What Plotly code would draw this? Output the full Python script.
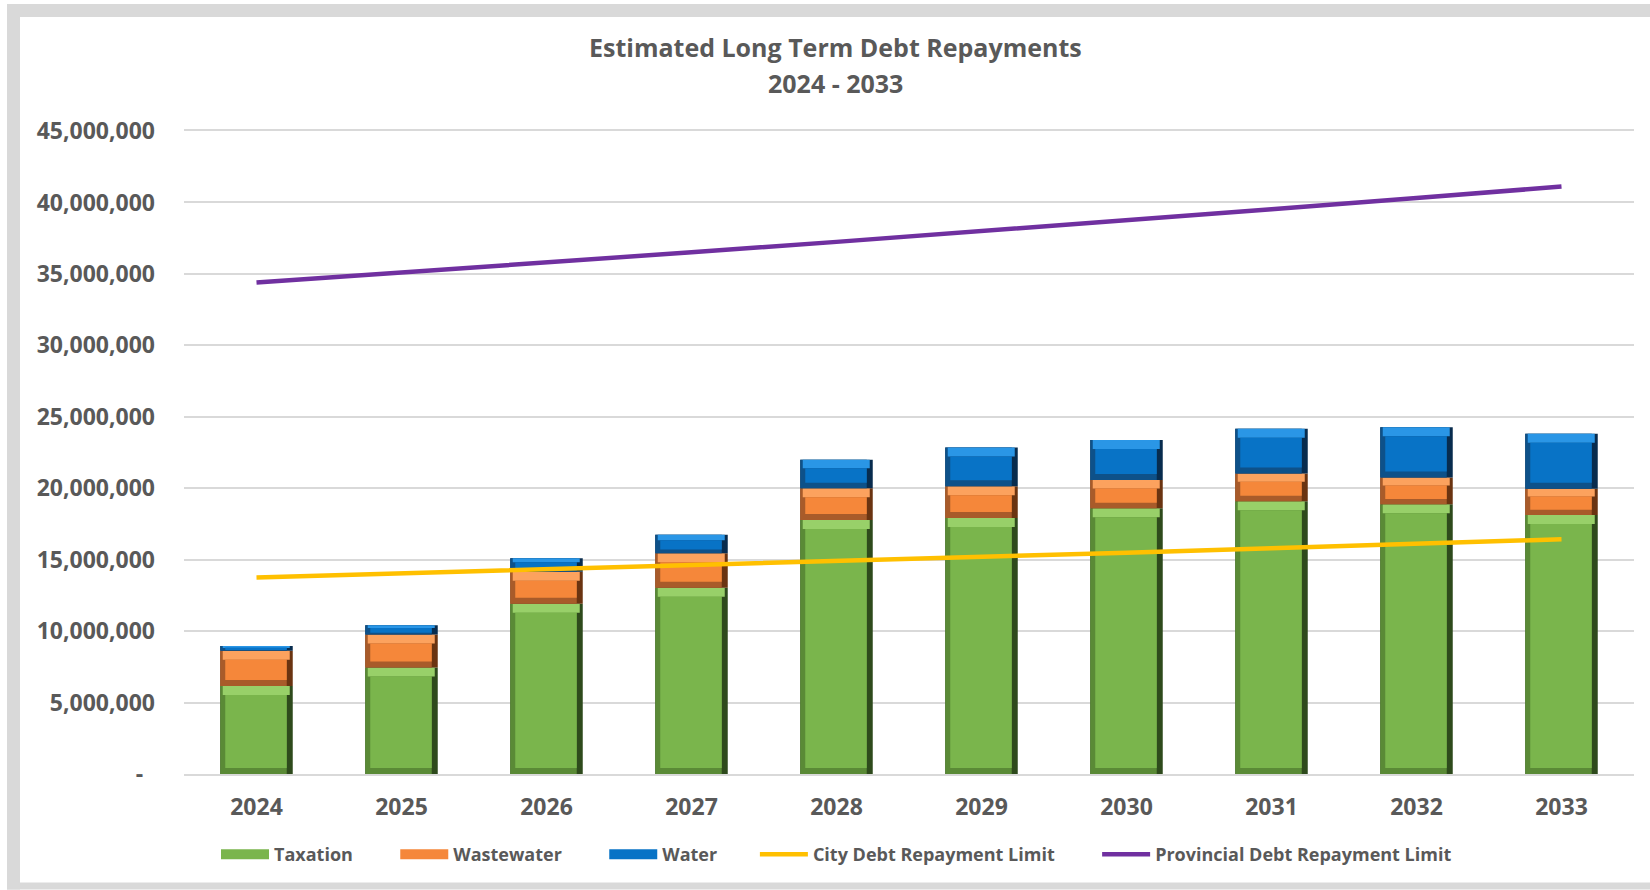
import plotly.graph_objects as go

# ---- data -------------------------------------------------------------
years = ["2024", "2025", "2026", "2027", "2028", "2029", "2030", "2031", "2032", "2033"]
taxation = [6_160_000, 7_460_000, 11_920_000, 13_040_000, 17_780_000,
            17_920_000, 18_590_000, 19_080_000, 18_870_000, 18_130_000]
wastewater = [2_460_000, 2_300_000, 2_230_000, 2_410_000, 2_210_000,
              2_210_000, 1_980_000, 1_950_000, 1_880_000, 1_840_000]
water = [330_000, 650_000, 950_000, 1_290_000, 2_000_000,
         2_720_000, 2_810_000, 3_140_000, 3_520_000, 3_850_000]
city_limit = [13_750_000, 14_030_000, 14_310_000, 14_590_000, 14_880_000,
              15_180_000, 15_490_000, 15_800_000, 16_110_000, 16_430_000]
provincial_limit = [34_400_000, 35_090_000, 35_790_000, 36_510_000, 37_240_000,
                    37_980_000, 38_740_000, 39_520_000, 40_310_000, 41_110_000]
y_ticks = [0, 5_000_000, 10_000_000, 15_000_000, 20_000_000,
           25_000_000, 30_000_000, 35_000_000, 40_000_000, 45_000_000]
y_tick_text = ["-\u00a0\u00a0" if v == 0 else f"{v:,}" for v in y_ticks]

# ---- page geometry (pixels) ------------------------------------------
W, H = 1650, 890
PL, PR, PT, PB = 184, 1634, 131, 774.5          # plot area edges
Y_MAX = 45_000_000
FONT = "Open Sans"
TXT = "#595959"
GRID = "#d9d9d9"


def px_x(px):
    return (px - PL) / (PR - PL)


def px_y(py):
    return (PB - py) / (PB - PT)


def ylen(px):
    return px * Y_MAX / (PB - PT)


def xlen(px):
    return px / ((PR - PL) / len(years))


BAR_W = 0.5
S_L, S_R = xlen(5), xlen(6)          # side bevels
T_PX, B_PX = 9, 6                    # top / bottom bevels

fig = go.Figure()


def add_bevel_bars(values, bottoms, name, darkest, dark, light, main):
    tops_t = [min(ylen(T_PX), v * 0.3) for v in values]
    bots_b = [min(ylen(B_PX), v * 0.2) for v in values]
    common = dict(x=years, hoverinfo="skip", showlegend=False,
                  marker_line_width=0)
    # right-hand (darkest) edge
    fig.add_trace(go.Bar(y=values, base=bottoms, width=BAR_W, offset=-BAR_W / 2,
                         marker_color=darkest, **common))
    # left and bottom edges
    fig.add_trace(go.Bar(y=values, base=bottoms, width=BAR_W - S_R,
                         offset=-BAR_W / 2, marker_color=dark, **common))
    # lighter top edge
    fig.add_trace(go.Bar(y=tops_t,
                         base=[b + v - t for b, v, t in zip(bottoms, values, tops_t)],
                         width=BAR_W - (S_L + S_R) / 2,
                         offset=-BAR_W / 2 + S_L / 2,
                         marker_color=light, **common))
    # main face
    fig.add_trace(go.Bar(y=[v - t - b for v, t, b in zip(values, tops_t, bots_b)],
                         base=[bo + b for bo, b in zip(bottoms, bots_b)],
                         width=BAR_W - S_L - S_R, offset=-BAR_W / 2 + S_L,
                         marker_color=main, name=name, **common))


zero = [0] * len(years)
tax_top = [a + b for a, b in zip(zero, taxation)]
ww_top = [a + b for a, b in zip(tax_top, wastewater)]

series = [
    ("Taxation", taxation, zero, "#2E4A1C", "#5A8A36", "#98D069", "#7AB54C"),
    ("Wastewater", wastewater, tax_top, "#6A3411", "#A85B2A", "#FCA25E", "#F5873A"),
    ("Water", water, ww_top, "#082C4E", "#0E5189", "#2A96E6", "#0873C6"),
]
for name, vals, bottoms, c1, c2, c3, c4 in series:
    add_bevel_bars(vals, bottoms, name, c1, c2, c3, c4)

# legend entries for the stacked series (trailing spaces set the item spacing)
legend_pad = {"Taxation": 8, "Wastewater": 8, "Water": 7}
for name, vals, bottoms, c1, c2, c3, c4 in series:
    fig.add_trace(go.Scatter(x=[years[0]], y=[None], mode="lines",
                             line=dict(color=c4, width=13),
                             name=name + "\u00a0" * legend_pad[name],
                             hoverinfo="skip"))

fig.add_trace(go.Scatter(x=years, y=city_limit, mode="lines",
                         line=dict(color="#FFC000", width=4.5),
                         name="City Debt Repayment Limit" + "\u00a0" * 8))
fig.add_trace(go.Scatter(x=years, y=provincial_limit, mode="lines",
                         line=dict(color="#7030A0", width=4.5),
                         name="Provincial Debt Repayment Limit"))

# ---- frame ------------------------------------------------------------
frame = [
    (7, 4, W, 17),      # top band
    (7, 4, 20, H),      # left band
    (7, 883, W, H),     # bottom band
]
shapes = [dict(type="rect", xref="paper", yref="paper", layer="below",
               x0=px_x(x0), x1=px_x(x1), y0=px_y(y1), y1=px_y(y0),
               fillcolor=GRID, line_width=0) for x0, y0, x1, y1 in frame]

title_font = dict(family=FONT, size=25, color=TXT, weight=700)
annotations = [
    dict(text="Estimated Long Term Debt Repayments", x=px_x(835), y=px_y(47),
         xref="paper", yref="paper", showarrow=False, xanchor="center",
         yanchor="middle", font=title_font),
    dict(text="2024 - 2033", x=px_x(835), y=px_y(83),
         xref="paper", yref="paper", showarrow=False, xanchor="center",
         yanchor="middle", font=title_font),
]

fig.update_layout(
    width=W, height=H,
    margin=dict(l=PL, r=W - PR, t=PT, b=H - PB, pad=0),
    paper_bgcolor="white", plot_bgcolor="white",
    barmode="overlay",
    shapes=shapes, annotations=annotations,
    showlegend=True,
    legend=dict(orientation="h", x=px_x(216), xanchor="left",
                y=px_y(855), yanchor="middle", itemwidth=48,
                font=dict(family=FONT, size=18, color=TXT, weight=700),
                bgcolor="rgba(0,0,0,0)", traceorder="normal"),
    font=dict(family=FONT, color=TXT),
)

fig.update_xaxes(type="category", showgrid=False, showline=True, mirror=True,
                 linecolor=GRID, linewidth=1.5, ticks="",
                 tickfont=dict(family=FONT, size=23, color=TXT, weight=700),
                 ticklabelstandoff=12)
fig.update_yaxes(range=[0, Y_MAX], tickvals=y_ticks, ticktext=y_tick_text,
                 showgrid=True, gridcolor=GRID, gridwidth=1.5,
                 zeroline=False, showline=False, ticks="",
                 tickfont=dict(family=FONT, size=23, color=TXT, weight=700),
                 ticklabelstandoff=28)

fig.write_html("out.html")
